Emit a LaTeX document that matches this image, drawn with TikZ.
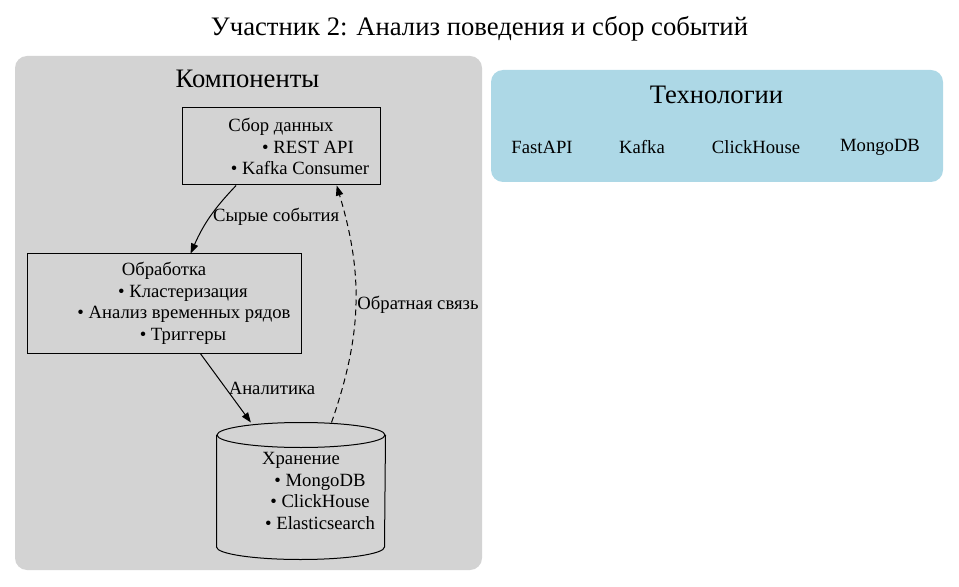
\documentclass[tikz,border=0pt]{standalone}
\usepackage{fontspec}
\setmainfont{Liberation Serif}
\usepackage{tikz}
\usetikzlibrary{arrows.meta,positioning,calc}
\definecolor{clustergray}{HTML}{D3D3D3}
\definecolor{clusterblue}{HTML}{ADD8E6}

\begin{document}
\begin{tikzpicture}[x=0.75pt,y=0.75pt,line width=0.75pt,
    every node/.style={font=\fontsize{14}{16.1}\selectfont},
    bigtext/.style={font=\fontsize{20}{23}\selectfont},
    box/.style={draw,rectangle,inner sep=0pt,align=center},
    edge/.style={-{Triangle[length=7.5pt,width=5.5pt]}},
    elabel/.style={midway,right,inner sep=2pt}]
    \useasboundingbox (0,0) rectangle (959,586);

    % Title
    \node[bigtext] (title) at (479.5,557) {Участник 2: Анализ поведения и сбор событий};

    % Clusters
    \fill[clustergray,rounded corners=9pt] (15,16) rectangle (482,530);
    \node[bigtext] (complabel) at (247.5,507) {Компоненты};
    \fill[clusterblue,rounded corners=9pt] (491,404) rectangle (943,516);
    \node[bigtext] (techlabel) at (716.5,491) {Технологии};

    % Technologies
    \node (fastapi) at (542,439) {FastAPI};
    \node (kafka) at (642,439) {Kafka};
    \node (clickhouse) at (756,439) {ClickHouse};
    \node (mongodb) at (880,439) {MongoDB};

    % Components
    \node[box,minimum width=148.5pt,minimum height=57.75pt] (collect) at (281,439.5)
        {Сбор данных\\\hspace*{40.5pt}• REST API\\\hspace*{28.5pt}• Kafka Consumer};
    \node[box,minimum width=205.5pt,minimum height=74.25pt] (process) at (164,282.5)
        {Обработка\\\hspace*{28.5pt}• Кластеризация\\\hspace*{30pt}• Анализ временных рядов\\\hspace*{28.5pt}• Триггеры};
    \node[inner sep=0pt,align=center,minimum width=126pt,minimum height=102pt] (store) at (301,95)
        {Хранение\\\hspace*{28.5pt}• MongoDB\\\hspace*{28.5pt}• ClickHouse\\\hspace*{28.5pt}• Elasticsearch};

    % Cylinder outline
    \draw ($(store.north west)+(0,-12.5)$) -- ($(store.south west)+(0,12.5)$)
        arc[start angle=180,end angle=360,x radius=84,y radius=12.5]
        -- ($(store.north east)+(0,-12.5)$);
    \draw ($(store.north)+(0,-12.5)$) ellipse[x radius=84,y radius=12.5];

    % Edges
    \draw[edge] (collect.221) to[bend right=10] node[elabel] {Сырые события} (process.62);
    \draw[edge] (process.306) -- node[elabel] {Аналитика} (store);
    \draw[edge,dash pattern=on 4.5pt off 3pt] (store.66) to[bend right=18]
        node[elabel,inner sep=1pt] {Обратная связь} (collect.-35);
\end{tikzpicture}
\end{document}
